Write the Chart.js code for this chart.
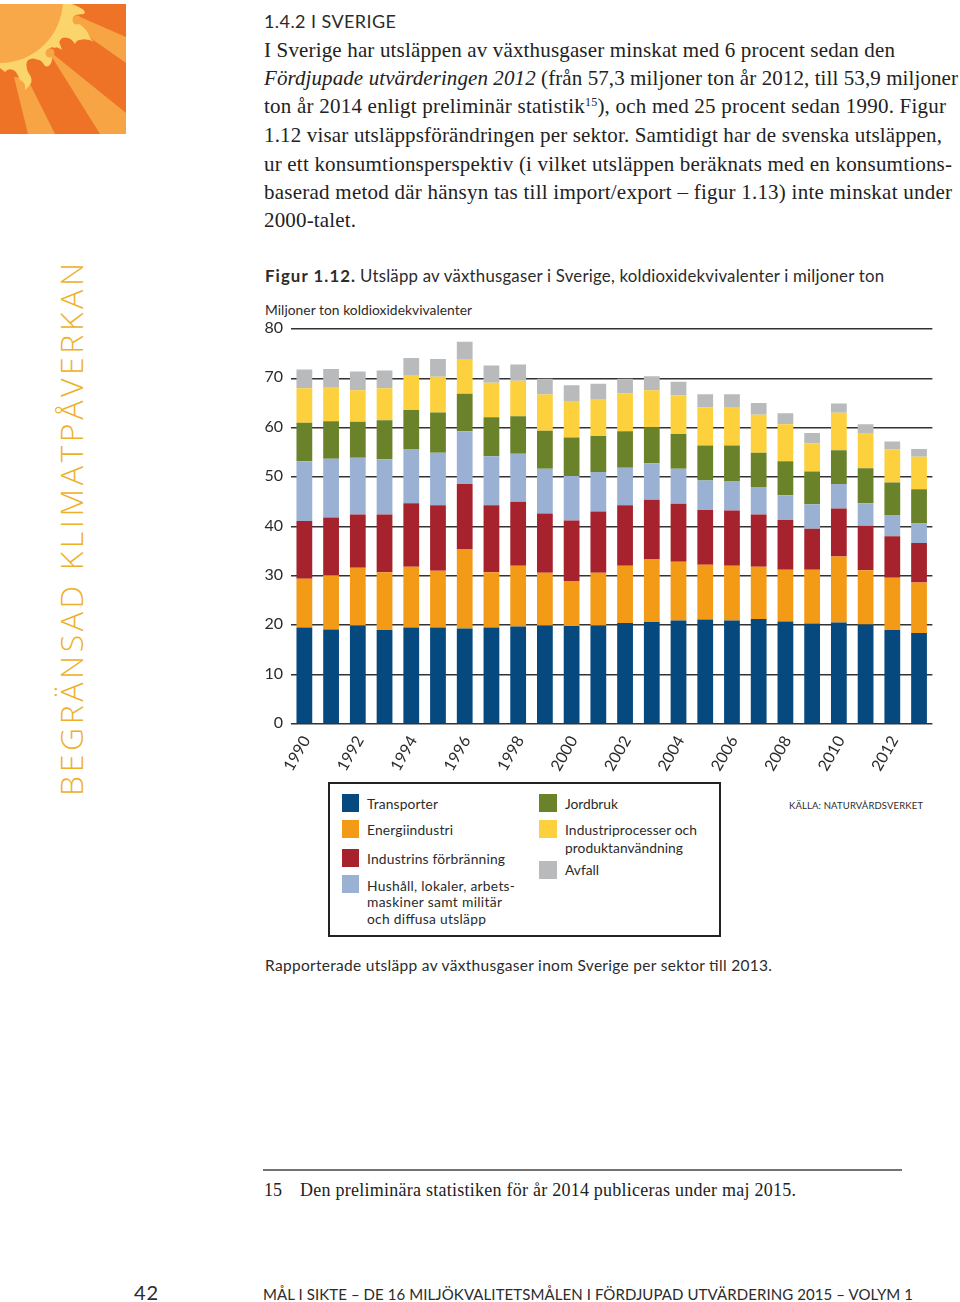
<!DOCTYPE html>
<html lang="sv">
<head>
<meta charset="utf-8">
<title>Figur 1.12</title>
<script src="https://cdn.jsdelivr.net/npm/chart.js@4"></script>
<style>
    html, body { margin: 0; padding: 0; background: #fff; }
    #page { position: relative; width: 960px; height: 1302px; overflow: hidden; }
    #text { position: absolute; left: 0; top: 0; }
    #liveChart { position: absolute; left: 250px; top: 309px; }
    .body { font: 21px "Liberation Serif", serif; fill: #222; }
    .note { font: 18px "Liberation Serif", serif; fill: #222; }
    .sans { font: 13.8px Lato, sans-serif; fill: #2b2b2b; }
    .big { font: 16.8px Lato, sans-serif; fill: #2b2b2b; }
    .side { font: 32px "Open Sans", sans-serif; font-weight: 300; fill: #eeb02a; }
</style>
</head>
<body>
<div id="page">
<svg id="text" width="960" height="1302" xmlns="http://www.w3.org/2000/svg">
    <!-- sun picture, top left -->
    <svg x="0" y="4" width="126" height="130" viewBox="0 4 126 130">
        <rect x="0" y="0" width="126" height="140" fill="#ee7326"/>
        <polygon points="80,17 126,37 126,63 72,25" fill="#f7a544"/>
        <polygon points="48,50 126,113 126,134 100,134 55,62" fill="#f7a544"/>
        <polygon points="14,77 28,134 55,134 27,78" fill="#f7a544"/>
        <path d="M72,4 Q88,10 84,14 Q72,14 73,20 Q84,26 88,33 Q90,40 95,42 Q86,38 80,40 Q78,46 75,44 Q70,36 62,38 Q58,42 60,44 L62,50 Q56,46 55,48 Q50,46 48,50 Q54,54 52,60 Q50,68 45,66 Q40,58 35,60 Q28,58 27,62 Q26,68 28,72 Q34,80 30,85 L25,90 Q26,82 20,80 Q16,70 13,70 Q8,68 5,72 L0,68 L0,4 Z" fill="#fbd56b"/>
        <circle cx="65" cy="43" r="5" fill="#ee7326"/>
        <circle cx="80" cy="45" r="5" fill="#ee7326"/>
        <circle cx="33" cy="65" r="6.5" fill="#ee7326"/>
        <circle cx="50" cy="53" r="4.5" fill="#f7a544"/>
        <circle cx="77" cy="20" r="4.5" fill="#f7a544"/>
        <circle cx="0" cy="0" r="63" fill="#f8a848"/>
    </svg>

    <text x="264" y="28" textLength="132" class="big" style="font-size:18px">1.4.2 I SVERIGE</text>
    <text x="264" y="57" textLength="631" class="body">I Sverige har utsläppen av växthusgaser minskat med 6 procent sedan den</text>
    <text x="264" y="84.5" textLength="694" class="body"><tspan font-style="italic">Fördjupade utvärderingen 2012</tspan> (från 57,3 miljoner ton år 2012, till 53,9 miljoner</text>
    <text x="264" y="113.3" textLength="682" class="body">ton år 2014 enligt preliminär statistik<tspan font-size="12" dy="-7">15</tspan><tspan dy="7">), och med 25 procent sedan 1990. Figur</tspan></text>
    <text x="264" y="141.7" textLength="678" class="body">1.12 visar utsläppsförändringen per sektor. Samtidigt har de svenska utsläppen,</text>
    <text x="264" y="170.7" textLength="688" class="body">ur ett konsumtionsperspektiv (i vilket utsläppen beräknats med en konsumtions-</text>
    <text x="264" y="199" textLength="688" class="body">baserad metod där hänsyn tas till import/export – figur 1.13) inte minskat under</text>
    <text x="264" y="227.3" textLength="92" class="body">2000-talet.</text>

    <text transform="translate(82.5,796) rotate(-90)" textLength="533" class="side">BEGRÄNSAD KLIMATPÅVERKAN</text>

    <text x="265" y="282" textLength="90" class="big" style="font-weight:700">Figur 1.12.</text>
    <text x="360" y="282" textLength="524" class="big">Utsläpp av växthusgaser i Sverige, koldioxidekvivalenter i miljoner ton</text>
    <text x="265" y="315" textLength="207" class="sans">Miljoner ton koldioxidekvivalenter</text>

    <rect x="329" y="783" width="391" height="153" fill="none" stroke="#222" stroke-width="2"/>
    <rect x="342" y="794" width="17" height="18" fill="#05497f"/>
    <rect x="342" y="820" width="17" height="18" fill="#f39a16"/>
    <rect x="342" y="849" width="17" height="18" fill="#a6232d"/>
    <rect x="342" y="875" width="17" height="18" fill="#9ab1d3"/>
    <rect x="539" y="794" width="18" height="18" fill="#6a8229"/>
    <rect x="539" y="820" width="18" height="18" fill="#fdd13d"/>
    <rect x="539" y="861" width="18" height="18" fill="#b8babc"/>
    <text x="367" y="809" textLength="71" class="sans">Transporter</text>
    <text x="367" y="835" textLength="86" class="sans">Energiindustri</text>
    <text x="367" y="864" textLength="138" class="sans">Industrins förbränning</text>
    <text x="367" y="890.5" textLength="148" class="sans">Hushåll, lokaler, arbets-</text>
    <text x="367" y="907" textLength="135" class="sans">maskiner samt militär</text>
    <text x="367" y="924" textLength="119" class="sans">och diffusa utsläpp</text>
    <text x="565" y="809" textLength="53" class="sans">Jordbruk</text>
    <text x="565" y="835" textLength="132" class="sans">Industriprocesser och</text>
    <text x="565" y="852.5" textLength="118" class="sans">produktanvändning</text>
    <text x="565" y="875" textLength="34" class="sans">Avfall</text>
    <text x="789" y="809" textLength="134" class="sans" style="font-size:9.5px">KÄLLA: NATURVÅRDSVERKET</text>

    <text x="265" y="971" textLength="507" class="big" style="font-size:15.5px">Rapporterade utsläpp av växthusgaser inom Sverige per sektor till 2013.</text>

    <line x1="263" y1="1170" x2="902" y2="1170" stroke="#444" stroke-width="1.5"/>
    <text x="264" y="1196" textLength="18" class="note">15</text>
    <text x="300" y="1196" textLength="496" class="note">Den preliminära statistiken för år 2014 publiceras under maj 2015.</text>
    <text x="134" y="1300" textLength="24" class="big" style="font-size:20px">42</text>
    <text x="263" y="1300" textLength="650" class="big" style="font-size:15px">MÅL I SIKTE – DE 16 MILJÖKVALITETSMÅLEN I FÖRDJUPAD UTVÄRDERING 2015 – VOLYM 1</text>
</svg>
<canvas id="liveChart" width="700" height="491"></canvas>
</div>
<script>
const years = ['1990', '1991', '1992', '1993', '1994', '1995', '1996', '1997', '1998', '1999', '2000', '2001',
    '2002', '2003', '2004', '2005', '2006', '2007', '2008', '2009', '2010', '2011', '2012', '2013'];
const transporter = [19.5, 19.1, 19.9, 19.0, 19.5, 19.5, 19.3, 19.5, 19.7, 19.9, 19.8, 19.9, 20.4, 20.6, 20.9, 21.1, 20.9, 21.2, 20.7, 20.3, 20.5, 20.1, 19.0, 18.4];
const energi = [9.9, 11.0, 11.7, 11.7, 12.3, 11.5, 16.0, 11.2, 12.3, 10.7, 9.1, 10.7, 11.6, 12.8, 11.9, 11.1, 11.1, 10.6, 10.5, 10.9, 13.4, 11.0, 10.6, 10.2];
const industri = [11.7, 11.7, 10.8, 11.7, 12.9, 13.3, 13.3, 13.6, 13.0, 12.0, 12.3, 12.4, 12.3, 12.0, 11.8, 11.1, 11.2, 10.6, 10.1, 8.3, 9.7, 9.0, 8.4, 8.0];
const hushall = [12.1, 11.9, 11.5, 11.2, 11.0, 10.6, 10.7, 9.9, 9.7, 9.1, 9.0, 8.0, 7.6, 7.4, 7.1, 6.0, 6.0, 5.6, 5.0, 5.0, 5.0, 4.6, 4.3, 4.0];
const jordbruk = [7.8, 7.6, 7.3, 7.9, 7.9, 8.2, 7.6, 7.9, 7.6, 7.7, 7.8, 7.3, 7.4, 7.3, 7.0, 7.1, 7.2, 6.9, 6.9, 6.6, 6.8, 7.1, 6.6, 6.9];
const processer = [7.0, 6.8, 6.4, 6.5, 6.9, 7.2, 7.0, 7.0, 7.2, 7.3, 7.4, 7.5, 7.7, 7.5, 7.8, 7.7, 7.8, 7.7, 7.5, 5.7, 7.6, 7.1, 6.7, 6.6];
const avfall = [3.8, 3.8, 3.8, 3.6, 3.6, 3.6, 3.5, 3.5, 3.3, 3.2, 3.2, 3.1, 2.9, 2.8, 2.8, 2.7, 2.6, 2.4, 2.2, 2.1, 1.9, 1.8, 1.6, 1.6];

function bar(label, data, color) {
    return { label: label, data: data, backgroundColor: color, borderWidth: 0, barPercentage: 0.59, categoryPercentage: 1 };
}

new Chart(document.getElementById('liveChart').getContext('2d'), {
    type: 'bar',
    data: {
        labels: years,
        datasets: [
            bar('Transporter', transporter, '#05497f'),
            bar('Energiindustri', energi, '#f39a16'),
            bar('Industrins förbränning', industri, '#a6232d'),
            bar('Hushåll, lokaler, arbetsmaskiner samt militär och diffusa utsläpp', hushall, '#9ab1d3'),
            bar('Jordbruk', jordbruk, '#6a8229'),
            bar('Industriprocesser och produktanvändning', processer, '#fdd13d'),
            bar('Avfall', avfall, '#b8babc')
        ]
    },
    options: {
        responsive: false,
        animation: false,
        layout: { padding: { top: 20, right: 17.6, left: 0, bottom: 0 } },
        plugins: { legend: { display: false }, tooltip: { enabled: false } },
        scales: {
            x: {
                stacked: true,
                afterFit: (scale) => { scale.height = 76.3; },
                grid: { display: false },
                border: { display: false },
                ticks: {
                    autoSkip: false,
                    minRotation: 60,
                    maxRotation: 60,
                    padding: 1,
                    labelOffset: 2,
                    color: '#2b2b2b',
                    font: { family: 'Lato', size: 16 },
                    callback: function (value, index) { return index % 2 ? '' : this.getLabelForValue(value); }
                }
            },
            y: {
                stacked: true,
                min: 0,
                max: 80,
                afterFit: (scale) => { scale.width = 41; },
                border: { display: false },
                grid: { color: '#333', lineWidth: 1.5, drawTicks: false },
                ticks: {
                    stepSize: 10,
                    padding: 8,
                    labelOffset: -1,
                    color: '#2b2b2b',
                    font: { family: 'Lato', size: 16 }
                }
            }
        }
    }
});
</script>
</body>
</html>
